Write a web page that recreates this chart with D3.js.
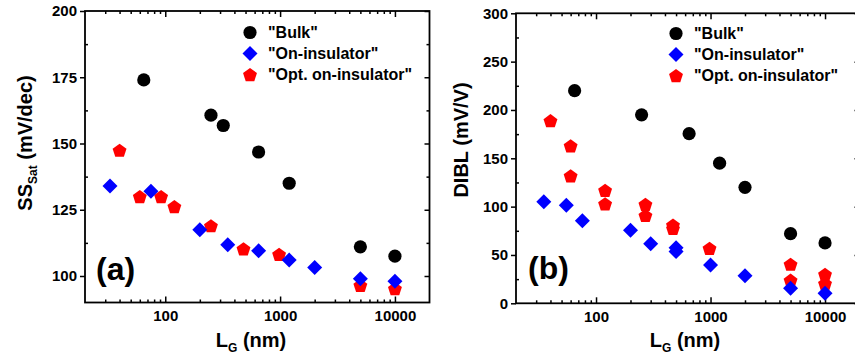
<!DOCTYPE html>
<html><head><meta charset="utf-8">
<script src="https://cdn.jsdelivr.net/npm/d3@7"></script>
<style>
html,body{margin:0;padding:0;background:#fff;}
svg{display:block;font-family:"Liberation Sans",Arial,sans-serif;font-weight:bold;}
</style></head>
<body>
<svg id="chart" width="855" height="360"></svg>
<script>
// ---- Data ----
const seriesNames = ['"Bulk"', '"On-insulator"', '"Opt. on-insulator"'];
const xTickValues = [100, 1000, 10000];
const ssTickValues = [100, 125, 150, 175, 200];
const diblTickValues = [0, 50, 100, 150, 200, 250, 300];

// (a) SS_Sat (mV/dec)
const bulkSS_L = [65, 250, 320, 650, 1200, 5000, 10000];
const bulkSS   = [174, 160.7, 156.8, 146.8, 135, 111, 107.5];
const onSS_L   = [33, 75, 200, 350, 650, 1200, 2000, 5000, 10000];
const onSS     = [134, 132, 117.5, 111.8, 109.5, 106, 103.2, 99, 98];
const optSS_L  = [40, 60, 92, 120, 250, 480, 980, 5000, 10000];
const optSS    = [147.5, 130, 130, 126.2, 119, 110.3, 108.2, 96.5, 95.3];

// (b) DIBL (mV/V)
const bulkDIBL_L = [65, 250, 650, 1200, 2000, 5000, 10000];
const bulkDIBL   = [220, 195, 175.5, 145, 120, 72, 62.5];
const onDIBL_L   = [35, 55, 76, 200, 300, 500, 500, 1000, 2000, 5000, 10000];
const onDIBL     = [105, 101.5, 85.5, 75.5, 61.5, 57.5, 53.5, 39.5, 28.5, 15.5, 10.5];
const optDIBL_L  = [40, 60, 60, 120, 120, 270, 270, 470, 470, 980, 5000, 5000, 10000, 10000];
const optDIBL    = [189, 163, 132, 117, 103, 102.5, 91, 81, 77.5, 57, 40.5, 24, 30, 20.5];

const colors = ["#000000", "#0000ff", "#ff0000"];

const svg = d3.select("#chart");

function markerPath(kind) {
  if (kind === 0) {
    const r = 6.6;
    return `M${r},0A${r},${r} 0 1,1 ${-r},0A${r},${r} 0 1,1 ${r},0Z`;
  }
  if (kind === 1) {
    const h = 7.5;
    return `M0,${-h}L${h},0L0,${h}L${-h},0Z`;
  }
  const R = 7.3;
  const pts = d3.range(5).map(k => {
    const a = (-90 + 72 * k) * Math.PI / 180;
    return [R * Math.cos(a), R * Math.sin(a) + 0.8];
  });
  return "M" + pts.map(p => p.join(",")).join("L") + "Z";
}

function minorTicks(domain) {
  const out = [];
  for (let p = 1; p <= 5; p++) {
    for (let k = 2; k <= 9; k++) {
      const v = k * Math.pow(10, p);
      if (v > domain[0] && v < domain[1]) out.push(v);
    }
  }
  return out;
}

function panel(cfg) {
  const g = svg.append("g");
  const x = d3.scaleLog().domain([20, 20000]).range(cfg.xRange);
  const y = d3.scaleLinear().domain(cfg.yDomain).range(cfg.yRange);
  const [x0, x1] = cfg.xRange;
  const [yb, yt] = cfg.yRange;
  const fs = "15px";

  const styleAxis = sel => {
    sel.selectAll(".domain").remove();
    sel.selectAll("line").attr("stroke", "#000").attr("stroke-width", 1.5);
    sel.selectAll("text").attr("font-size", fs).attr("font-weight", "bold").attr("fill", "#000")
       .attr("font-family", '"Liberation Sans",Arial,sans-serif');
  };

  const xMinor = minorTicks(x.domain());
  // bottom
  g.append("g").attr("transform", `translate(0,${yb})`)
    .call(d3.axisBottom(x).tickValues(xTickValues).tickSize(-6).tickPadding(8).tickFormat(d3.format("d")))
    .call(styleAxis);
  g.append("g").attr("transform", `translate(0,${yb})`)
    .call(d3.axisBottom(x).tickValues(xMinor).tickSize(-3).tickFormat(""))
    .call(styleAxis);
  // top
  g.append("g").attr("transform", `translate(0,${yt})`)
    .call(d3.axisTop(x).tickValues(xTickValues).tickSize(-6).tickFormat(""))
    .call(styleAxis);
  g.append("g").attr("transform", `translate(0,${yt})`)
    .call(d3.axisTop(x).tickValues(xMinor).tickSize(-3).tickFormat(""))
    .call(styleAxis);
  // left / right
  const step = cfg.yTicks[1] - cfg.yTicks[0];
  const yMinorAll = [];
  for (let v = cfg.yTicks[0] - step / 2; v < cfg.yDomain[1]; v += step) {
    if (v > cfg.yDomain[0]) yMinorAll.push(v);
  }
  g.append("g").attr("transform", `translate(${x0},0)`)
    .call(d3.axisLeft(y).tickValues(cfg.yTicks).tickSize(5).tickPadding(3))
    .call(styleAxis);
  g.append("g").attr("transform", `translate(${x0},0)`)
    .call(d3.axisLeft(y).tickValues(yMinorAll).tickSize(-3).tickFormat(""))
    .call(styleAxis);
  g.append("g").attr("transform", `translate(${x1},0)`)
    .call(d3.axisRight(y).tickValues(cfg.yTicks).tickSize(-5).tickFormat(""))
    .call(styleAxis);
  g.append("g").attr("transform", `translate(${x1},0)`)
    .call(d3.axisRight(y).tickValues(yMinorAll).tickSize(-3).tickFormat(""))
    .call(styleAxis);
  // frame
  g.append("rect").attr("x", x0).attr("y", yt).attr("width", x1 - x0).attr("height", yb - yt)
    .attr("fill", "none").attr("stroke", "#000").attr("stroke-width", 1.8);

  // data: bulk, opt, on (blue drawn last)
  [0, 2, 1].forEach(si => {
    const xs = cfg.series[si][0], ys = cfg.series[si][1];
    g.append("g").selectAll("path").data(xs.map((v, i) => [v, ys[i]])).join("path")
      .attr("d", markerPath(si))
      .attr("transform", d => `translate(${x(d[0])},${y(d[1])})`)
      .attr("fill", colors[si]);
  });

  // legend
  seriesNames.forEach((name, i) => {
    const ly = cfg.legend[1] + i * 21;
    g.append("path").attr("d", markerPath(i))
      .attr("transform", `translate(${cfg.legend[0]},${ly})`).attr("fill", colors[i]);
    g.append("text").attr("x", cfg.legend[0] + 18).attr("y", ly + 5.5)
      .attr("font-size", "16px").text(name);
  });

  // panel label
  g.append("text").attr("x", cfg.label[0]).attr("y", cfg.label[1])
    .attr("font-size", "32px").text(cfg.labelText);

  // x title
  const xt = g.append("text").attr("x", cfg.xTitle[0]).attr("y", cfg.xTitle[1])
    .attr("text-anchor", "middle").attr("font-size", "20px");
  xt.append("tspan").text("L");
  xt.append("tspan").attr("font-size", "12px").attr("dy", 5).text("G");
  xt.append("tspan").attr("dy", -5).text(" (nm)");

  // y title
  const yt2 = g.append("text")
    .attr("transform", `translate(${cfg.yTitle[0]},${cfg.yTitle[1]}) rotate(-90)`)
    .attr("text-anchor", "middle").attr("font-size", "20px");
  cfg.yTitleParts.forEach(p => {
    const t = yt2.append("tspan").text(p.t);
    if (p.sub) t.attr("font-size", "12px").attr("dy", 5);
    if (p.back) t.attr("dy", -5);
  });
}

panel({
  xRange: [85, 429.5], yDomain: [90, 200], yRange: [302.5, 11], yTicks: ssTickValues,
  series: [[bulkSS_L, bulkSS], [onSS_L, onSS], [optSS_L, optSS]],
  legend: [250, 32.5], label: [96, 280], labelText: "(a)",
  xTitle: [251, 346.5], yTitle: [31.5, 143],
  yTitleParts: [{t: "SS"}, {t: "Sat", sub: true}, {t: " (mV/dec)", back: true}]
});

panel({
  xRange: [516, 859.5], yDomain: [0, 300], yRange: [303.3, 13.3], yTicks: diblTickValues,
  series: [[bulkDIBL_L, bulkDIBL], [onDIBL_L, onDIBL], [optDIBL_L, optDIBL]],
  legend: [676, 33.5], label: [528, 278.5], labelText: "(b)",
  xTitle: [685, 346.5], yTitle: [468, 140],
  yTitleParts: [{t: "DIBL (mV/V)"}]
});
</script>
</body></html>
